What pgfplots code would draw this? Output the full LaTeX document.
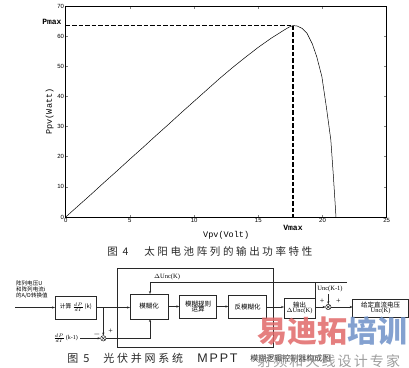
\documentclass[border=0pt]{standalone}
\usepackage{pgfplots}
\pgfplotsset{compat=1.18}
\usetikzlibrary{arrows.meta}
\usepackage{fontspec}
\setmainfont{Liberation Serif}
\newfontfamily\cjk{Noto Sans CJK SC}
\newfontfamily\cjkcap[LetterSpace=25]{Noto Sans CJK SC}
\newfontfamily\cjkwm[LetterSpace=15]{Noto Sans CJK SC}
\newfontfamily\mono{Liberation Mono}
\newfontfamily\tickf{Liberation Sans}
\newfontfamily\sanscap[LetterSpace=15]{Liberation Sans}
\definecolor{wmred}{RGB}{225,105,105}
\definecolor{wmblue}{RGB}{110,145,200}
\definecolor{wmgray}{RGB}{140,140,140}
\definecolor{dg}{RGB}{40,40,40}
\begin{document}
\begin{tikzpicture}
\path[use as bounding box] (0pt,0pt) rectangle (409pt,-367pt);
\begin{axis}[
  anchor=south west, at={(65.7pt,-217pt)},
  width=321pt, height=211pt, scale only axis,
  xmin=0, xmax=25, ymin=0, ymax=70,
  xtick={0,5,10,15,20,25}, ytick={0,10,...,70},
  tick align=inside, major tick length=2.5pt,
  /pgf/number format/assume math mode=true,
  tick label style={font=\tickf\fontsize{6}{6}\selectfont},
  xticklabel style={inner ysep=1.5pt},
  yticklabel style={inner xsep=1.5pt},
  axis line style={line width=0.6pt},
  tick style={line width=0.5pt},
  xlabel={Vpv(Volt)}, ylabel={Ppv(Watt)},
  label style={font=\mono\fontsize{8.5}{9}\selectfont},
  xlabel style={at={(axis description cs:0.5,-0.085)},anchor=center},
  ylabel style={at={(axis description cs:-0.05,0.5)},anchor=center},
  clip=false,
]
\addplot[black, line width=0.5pt] coordinates {
(0,0) (1,3.8) (2,7.6) (3,11.5) (4,15.3) (5,19.2) (6,23.0) (7,26.9) (8,30.7)
(9,34.6) (10,38.4) (11,42.2) (12,46.0) (13,49.6) (14,53.0) (15,56.3) (16,59.3)
(17,62.0) (17.4,63.0) (17.7,63.5) (18.0,63.4) (18.4,62.6) (18.8,60.9) (19.2,57.5)
(19.55,53.2) (19.95,46.6) (20.3,36.5) (20.65,25.5) (20.85,13.4) (21.05,0)
};
\addplot[black, line width=1.3pt, dash pattern=on 4.5pt off 2pt] coordinates {
(0,63.5) (17.7,63.5) (17.7,0)
};
\node[anchor=east, font=\mono\bfseries\fontsize{8}{8}\selectfont, inner sep=0pt, xshift=-4pt] at (axis cs:0,64.7) {Pmax};
\node[anchor=center, font=\mono\bfseries\fontsize{8}{8}\selectfont, inner sep=0pt, yshift=-10.7pt] at (axis cs:17.7,0) {Vmax};
\end{axis}

\begin{scope}[x=1pt,y=-1pt, line width=0.5pt, draw=dg, >={Stealth[length=3pt,width=2.2pt]}]
% captions
\node[anchor=west, inner sep=0pt, font=\cjkcap\fontsize{10.5}{11}\selectfont, text=dg] at (107,251.7) {图 4};
\node[anchor=west, inner sep=0pt, font=\cjkcap\fontsize{10.5}{11}\selectfont, text=dg] at (144,251.7) {太阳电池阵列的输出功率特性};
\node[anchor=west, inner sep=0pt, font=\cjkcap\fontsize{11}{12}\selectfont, text=dg] at (67,358.3) {图 5};
\node[anchor=west, inner sep=0pt, font=\cjkcap\fontsize{11}{12}\selectfont, text=dg] at (103,358.3) {光伏并网系统};
\node[anchor=west, inner sep=0pt, font=\sanscap\fontsize{12.5}{13}\selectfont, text=dg] at (197,358.3) {MPPT};
\node[anchor=west, inner sep=0pt, font=\cjk\fontsize{8}{9}\selectfont, text=dg] at (250,358.3) {模糊逻辑控制器构成图};
% input text
\node[anchor=west, inner sep=0pt, font=\cjk\fontsize{5.5}{6}\selectfont] at (16,283) {阵列电压U};
\node[anchor=west, inner sep=0pt, font=\cjk\fontsize{5.5}{6}\selectfont] at (16,289.5) {和阵列电流i};
\node[anchor=west, inner sep=0pt, font=\cjk\fontsize{5.5}{6}\selectfont] at (16,296) {的A/D转换值};
\draw[->] (15,307.5) -- (55,307.5);
% box A
\draw (55,296) rectangle (96.7,319);
\node[font=\cjk\fontsize{5.8}{7}\selectfont, inner sep=0pt] at (75.8,307.5) {计算\,$\scriptstyle\frac{dP}{dI}$\,(k)};
\draw[->] (96.7,307.5) -- (130,307.5);
% big rectangle
\draw (117.3,268.3) rectangle (273.3,347.5);
% fuzzify
\draw (130,294) rectangle (168.3,319);
\node[font=\cjk\fontsize{6.5}{7}\selectfont] at (149.2,306.5) {模糊化};
\draw[->] (168.3,306.5) -- (179.3,306.5);
\draw (179.3,295) rectangle (216.7,318.3);
\node[font=\cjk\fontsize{6.5}{7}\selectfont, align=center] at (198,306.7) {模糊规则\\[-2pt]运算};
\draw[->] (216.7,306.5) -- (228.3,306.5);
\draw (228.3,295) rectangle (266.7,318.3);
\node[font=\cjk\fontsize{6.5}{7}\selectfont] at (247.5,306.7) {反模糊化};
\draw[->] (266.7,307) -- (284,307);
% output
\draw (284,298) rectangle (315,318.5);
\node[font=\fontsize{6.5}{7}\selectfont, align=center] at (299.5,308.2) {{\cjk 输出}\\[-2pt]$\Delta$Unc(K)};
\draw[->] (315,307) -- (325.6,307);
\draw (328.3,307) circle (2.7);
\draw (326.4,305.1) -- (330.2,308.9) (326.4,308.9) -- (330.2,305.1);
\draw[->] (331,307) -- (352.7,307);
\draw (352.7,299.3) rectangle (408.3,317.3);
\node[font=\fontsize{6.5}{7}\selectfont, align=center] at (380.5,308.3) {{\cjk 给定直流电压}\\[-2pt]Unc(K)};
\node[font=\fontsize{6.5}{7}\selectfont] at (330,289.3) {Unc(K-1)};
\draw[->] (328.3,294) -- (328.3,304.3);
\node[font=\fontsize{8}{8}\selectfont, inner sep=0pt] at (322,301.7) {+};
\node[font=\fontsize{8}{8}\selectfont, inner sep=0pt] at (338.3,301.7) {+};
% feedback
\draw[->] (347,282.7) -- (150,282.7) -- (150,294);
\draw (315,282.7) -- (315,298);
\node[font=\fontsize{6.5}{7}\selectfont] at (167,277.3) {$\Delta$Unc(K)};
% lower path
\draw[->] (103.3,319) -- (103.3,335.6);
\draw (103.3,307.5) -- (103.3,319);
\draw (103.3,338.3) circle (2.7);
\draw (101.4,336.4) -- (105.2,340.2) (101.4,340.2) -- (105.2,336.4);
\node[anchor=east, font=\fontsize{6}{7}\selectfont, inner sep=0pt] at (78,338.3) {$\scriptstyle\frac{dP}{dI}$\,(k-1)};
\draw[->] (80,338.3) -- (100.6,338.3);
\node[font=\fontsize{8}{8}\selectfont, inner sep=0pt] at (97,334.5) {$-$};
\node[font=\fontsize{8}{8}\selectfont, inner sep=0pt] at (110.7,331.5) {+};
\draw[->] (106,338.3) -- (150,338.3) -- (150,319);
% watermark
\node[anchor=west, inner sep=0pt, font=\cjk\bfseries\fontsize{30}{30}\selectfont, text=wmred, opacity=0.85] at (257,331.5) {易迪拓};
\node[anchor=west, inner sep=0pt, font=\cjk\bfseries\fontsize{30}{30}\selectfont, text=wmblue, opacity=0.85] at (347,331.5) {培训};
\node[anchor=west, inner sep=0pt, font=\cjkwm\fontsize{14}{14}\selectfont, text=wmgray, opacity=0.85] at (257,361) {射频和天线设计专家};
\end{scope}
\end{tikzpicture}
\end{document}
